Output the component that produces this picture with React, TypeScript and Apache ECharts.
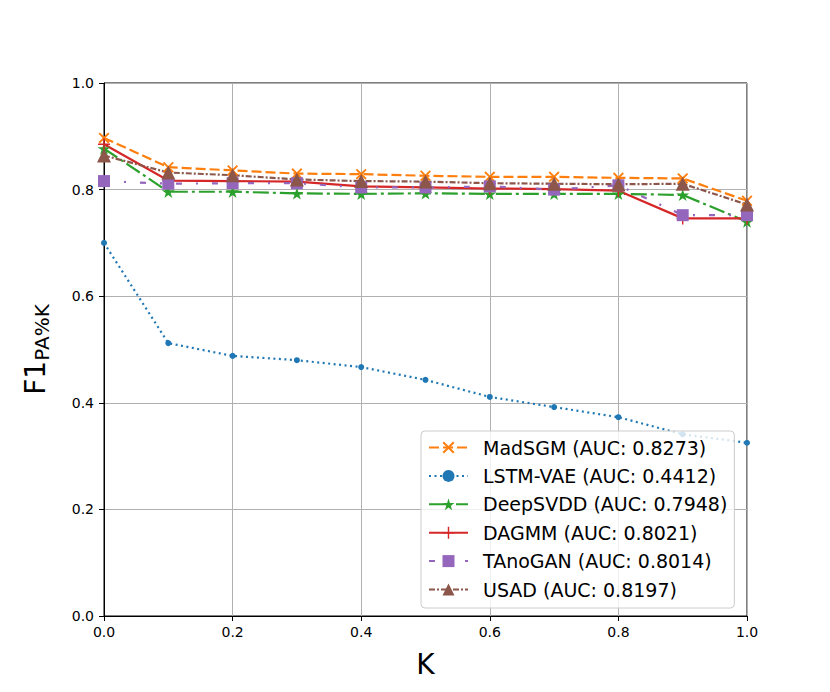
import React, { useEffect, useRef } from "react";
import * as echarts from "echarts";

const kValues = [0, 0.1, 0.2, 0.3, 0.4, 0.5, 0.6, 0.7, 0.8, 0.9, 1.0];
const madSGM = [0.897, 0.842, 0.836, 0.830, 0.829, 0.826, 0.824, 0.824, 0.822, 0.821, 0.779];
const lstmVAE = [0.700, 0.512, 0.488, 0.480, 0.467, 0.443, 0.411, 0.392, 0.373, 0.341, 0.325];
const deepSVDD = [0.877, 0.796, 0.796, 0.793, 0.792, 0.793, 0.792, 0.792, 0.792, 0.790, 0.740];
const dagmm = [0.885, 0.817, 0.816, 0.815, 0.806, 0.804, 0.802, 0.801, 0.798, 0.746, 0.746];
const tanoGAN = [0.816, 0.811, 0.812, 0.812, 0.804, 0.804, 0.806, 0.800, 0.808, 0.752, 0.752];
const usad = [0.864, 0.832, 0.827, 0.819, 0.816, 0.815, 0.812, 0.811, 0.810, 0.811, 0.772];
const seriesNames = [
  "MadSGM (AUC: 0.8273)",
  "LSTM-VAE (AUC: 0.4412)",
  "DeepSVDD (AUC: 0.7948)",
  "DAGMM (AUC: 0.8021)",
  "TAnoGAN (AUC: 0.8014)",
  "USAD (AUC: 0.8197)",
];

const FONT = "DejaVu Sans";
const X_PATH = "path://M0,1.2 L1.2,0 L5,3.8 L8.8,0 L10,1.2 L6.2,5 L10,8.8 L8.8,10 L5,6.2 L1.2,10 L0,8.8 L3.8,5 Z";
const PLUS_PATH = "path://M4.4,0 H5.6 V4.4 H10 V5.6 H5.6 V10 H4.4 V5.6 H0 V4.4 H4.4 Z";
const STAR_PATH = "path://M50,0 L61,35 L98,35 L68,57 L79,91 L50,70 L21,91 L32,57 L2,35 L39,35 Z";

function pairs(ys: number[]) {
  return kValues.map((k, i) => [k, ys[i]]);
}

export default function App() {
  const ref = useRef<HTMLDivElement>(null);
  useEffect(() => {
    document.body.style.margin = "0";
    const chart = echarts.init(ref.current!, null, { renderer: "svg" });
    const mk = (
      name: string,
      ys: number[],
      color: string,
      dash: number[] | "solid",
      symbol: string,
      size: number
    ) => ({
      type: "line",
      name,
      data: pairs(ys),
      symbol,
      symbolSize: size,
      symbolKeepAspect: true,
      showAllSymbol: true,
      clip: false,
      itemStyle: { color },
      lineStyle: { color, width: 2.2, type: dash },
    });
    chart.setOption({
      animation: false,
      backgroundColor: "#ffffff",
      grid: { left: 104, top: 83, width: 643, height: 533, show: true, borderColor: "#000", borderWidth: 1, backgroundColor: "transparent" },
      xAxis: {
        type: "value",
        min: 0,
        max: 1,
        interval: 0.2,
        name: "K",
        nameLocation: "middle",
        nameGap: 34,
        nameTextStyle: { fontSize: 28, fontFamily: FONT, color: "#000" },
        axisLine: { show: true, lineStyle: { color: "#000", width: 1 } },
        axisTick: { show: true, inside: false, length: 5, lineStyle: { color: "#000" } },
        axisLabel: { fontSize: 14, fontFamily: FONT, color: "#000", margin: 9, formatter: (v: number) => v.toFixed(1) },
        splitLine: { show: true, lineStyle: { color: "#b0b0b0", width: 1 } },
      },
      yAxis: {
        type: "value",
        min: 0,
        max: 1,
        interval: 0.2,
        name: "{a|F1}{b|PA%K}",
        nameLocation: "middle",
        nameRotate: 90,
        nameGap: 52,
        nameTextStyle: {
          color: "#000",
          rich: {
            a: { fontSize: 28, fontFamily: FONT, color: "#000", verticalAlign: "middle" },
            b: { fontSize: 20, fontFamily: FONT, color: "#000", verticalAlign: "bottom", padding: [13, 0, 0, 0] },
          },
        },
        axisLine: { show: true, lineStyle: { color: "#000", width: 1 } },
        axisTick: { show: true, inside: false, length: 5, lineStyle: { color: "#000" } },
        axisLabel: { fontSize: 14, fontFamily: FONT, color: "#000", margin: 10, formatter: (v: number) => v.toFixed(1) },
        splitLine: { show: true, lineStyle: { color: "#b0b0b0", width: 1 } },
      },
      legend: {
        orient: "vertical",
        left: 421,
        top: 431,
        itemWidth: 39,
        itemHeight: 15,
        itemGap: 7.4,
        padding: [6, 7, 8, 7],
        borderColor: "#cccccc",
        borderWidth: 1,
        borderRadius: 4,
        backgroundColor: "rgba(255,255,255,0.8)",
        textStyle: { fontSize: 19, fontFamily: FONT, color: "#000", lineHeight: 21, padding: [0, 0, 0, 10] },
        data: seriesNames,
      },
      series: [
        mk(seriesNames[0], madSGM, "#ff7f0e", [10, 4], X_PATH, 11),
        mk(seriesNames[1], lstmVAE, "#1f77b4", [2, 3.5], "circle", 6),
        mk(seriesNames[2], deepSVDD, "#2ca02c", [16, 4, 3, 4], STAR_PATH, 13),
        mk(seriesNames[3], dagmm, "#d62728", "solid", PLUS_PATH, 12),
        mk(seriesNames[4], tanoGAN, "#9467bd", [6, 14, 2, 14], "rect", 12),
        mk(seriesNames[5], usad, "#8c564b", [6, 2, 2, 2], "triangle", 14),
      ],
    });
    return () => chart.dispose();
  }, []);
  return <div ref={ref} style={{ width: 830, height: 692 }} />;
}
